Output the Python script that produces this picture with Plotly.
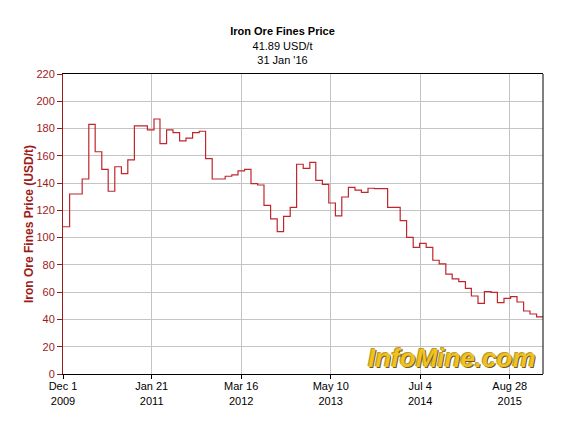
import plotly.graph_objects as go
import pandas as pd

# Monthly prices (USD/t), Dec 2009 .. Jan 2016
start_month = "2009-12-01"
end_date = "2016-01-31"
prices = [
    108, 132, 132, 143, 183, 163, 150, 134, 152, 147, 157, 182,   # Dec09-Nov10
    182, 179, 187, 169, 179, 177, 171, 173, 177, 178, 158, 143,   # Dec10-Nov11
    143, 145, 146, 149, 150, 139.6, 138.6, 123.7, 113.7, 104.4, 115.6, 122.2,  # Dec11-Nov12
    153.8, 150.8, 155.2, 142, 139.1, 125.4, 115.9, 129.8, 136.9, 134.9, 133.2, 136.2,  # Dec12-Nov13
    136, 136, 122.2, 122.2, 112.5, 100.2, 92.9, 95.8, 92.9, 83.4, 80.7, 73.3,  # Dec13-Nov14
    69.7, 67.7, 62.8, 57.2, 51.8, 60.4, 59.9, 52.3, 55.5, 56.7, 52.8, 46.2,  # Dec14-Nov15
    44, 41.89,  # Dec15-Jan16
]
months = pd.date_range(start_month, periods=len(prices), freq="MS")

tick_dates = ["2009-12-01", "2011-01-21", "2012-03-16", "2013-05-10", "2014-07-04", "2015-08-28"]
tick_labels = ["Dec 1<br>2009", "Jan 21<br>2011", "Mar 16<br>2012", "May 10<br>2013", "Jul 4<br>2014", "Aug 28<br>2015"]
y_ticks = list(range(0, 221, 20))

title_main = "Iron Ore Fines Price"
last_value_text = "41.89 USD/t"
last_date_text = "31 Jan '16"
y_title = "Iron Ore Fines Price (USD/t)"
watermark = "InfoMine.com"

DARK_RED = "#9b1b1b"
LINE_RED = "#c0262d"
GRID = "#c4c4c4"
FONT = "Liberation Sans, Arial, sans-serif"

x_vals = list(months) + [pd.Timestamp(end_date)]
y_vals = prices + [prices[-1]]

fig = go.Figure()
fig.add_trace(go.Scatter(
    x=x_vals, y=y_vals, mode="lines",
    line=dict(color=LINE_RED, width=1.2, shape="hv"),
    hoverinfo="skip", showlegend=False,
))

fig.update_layout(
    width=565, height=427,
    margin=dict(l=63, r=22, t=74, b=53),
    paper_bgcolor="white", plot_bgcolor="white",
    font=dict(family=FONT, size=11, color="black"),
    title=dict(
        text=f"<b>{title_main}</b><br>{last_value_text}<br>{last_date_text}",
        x=0.5, xref="container", xanchor="center",
        y=0.917, yref="container", yanchor="top",
        font=dict(family=FONT, size=11, color="black"),
    ),
    showlegend=False,
)

fig.update_xaxes(
    type="date",
    range=[start_month, end_date],
    tickvals=tick_dates, ticktext=tick_labels,
    showgrid=True, gridcolor=GRID, gridwidth=1,
    showline=True, linecolor="black", linewidth=1, mirror=True,
    ticks="outside", ticklen=4, tickcolor="black",
    ticklabelstandoff=-2,
    tickfont=dict(family=FONT, size=11, color="black"),
    zeroline=False, fixedrange=True,
)
fig.update_yaxes(
    range=[0, 220],
    tickvals=y_ticks,
    showgrid=True, gridcolor=GRID, gridwidth=1,
    showline=True, linecolor=DARK_RED, linewidth=1,
    ticks="outside", ticklen=5, tickcolor=DARK_RED,
    tickfont=dict(family=FONT, size=11, color=DARK_RED),
    title=dict(text=f"<b>{y_title}</b>", font=dict(family=FONT, size=12, color=DARK_RED), standoff=0),
    zeroline=False, fixedrange=True,
)

# right border of plot frame
fig.add_shape(type="line", xref="paper", yref="paper", x0=1, x1=1, y0=0, y1=1,
              line=dict(color="black", width=1))

# watermark
fig.add_annotation(text=f"<b><i>{watermark}</i></b>", xref="paper", yref="paper",
                   x=0.811, y=0.055, xanchor="center", yanchor="middle", showarrow=False,
                   font=dict(family=FONT, size=26, color="#f2c21a",
                             shadow="1px 1px 0px #6b5a28, -1px -1px 0px #b89a40"))

fig.write_html("out.html", config={"displayModeBar": False},
               post_script="document.body.style.margin='0';")
